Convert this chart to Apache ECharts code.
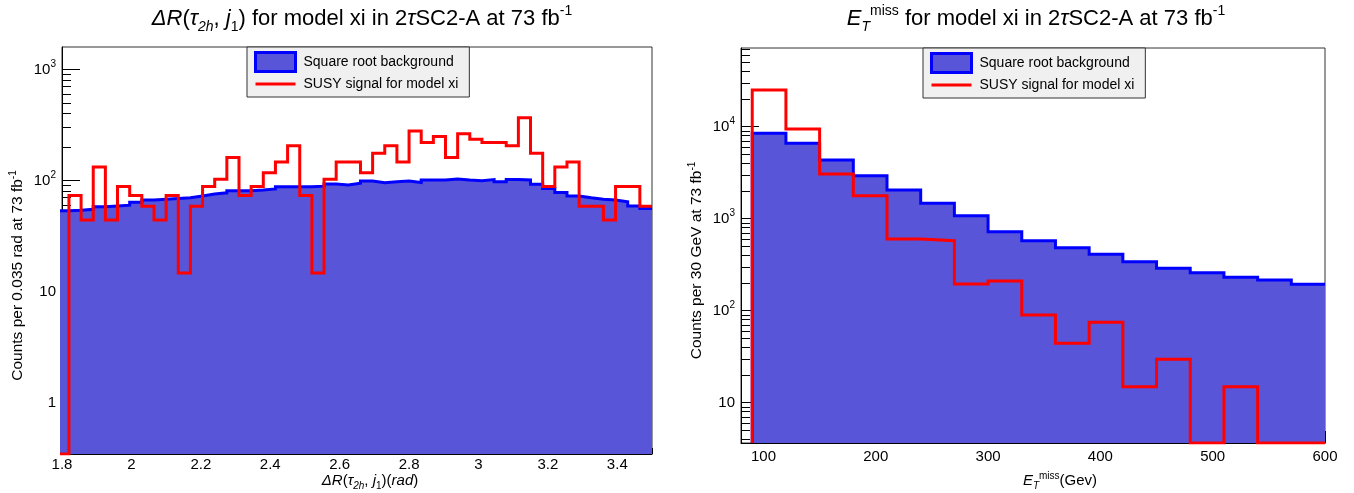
<!DOCTYPE html>
<html><head><meta charset="utf-8">
<script src="https://cdn.jsdelivr.net/npm/echarts@6/dist/echarts.min.js"></script>
<style>html,body{margin:0;padding:0;background:#fff}#c{width:1354px;height:493px}</style>
</head><body><div id="c"></div><script>
// ---------- Left panel: ΔR(τ2h, j1), bins of 0.035 rad starting at 1.785 ----------
const drFirstEdge = 1.785;
const drBinWidth = 0.035;
const drBackground = [53.5, 54, 55, 58, 59, 60, 63.6, 66.7, 67.7, 69, 70, 72.5, 75.5, 77.5, 81, 81, 82, 84, 88, 88, 88, 89, 93, 91, 94.4, 99,
  95.5, 97.5, 99, 96, 101, 101, 103.5, 101, 99.6, 102, 97.5, 102, 101, 92.4, 85, 78, 72.5, 70, 68, 66.7, 64.4, 59, 56];
const drSignal = [0, 73.5, 44.1, 132.3, 44.1, 88.2, 73.5, 58.8, 44.1, 73.5, 14.7, 58.8, 88.2, 102.9, 161.7, 73.5, 88.2, 117.6, 147, 205.8,
  73.5, 14.7, 102.9, 147, 147, 117.6, 176.4, 205.8, 147, 279.3, 220.5, 249.9, 161.7, 264.6, 235.2, 220.5, 220.5, 205.8, 367.5, 176.4,
  88.2, 132.3, 147, 58.8, 58.8, 44.1, 88.2, 88.2, 58.8];
const drXTickLabels = [1.8, 2, 2.2, 2.4, 2.6, 2.8, 3, 3.2, 3.4];
const drYTickLabels = [1, 10, 100, 1000];

// ---------- Right panel: E_T^miss, bins of 30 GeV starting at 90 ----------
const metFirstEdge = 90;
const metBinWidth = 30;
const metBackground = [8480, 6590, 4350, 2930, 2050, 1470, 1078, 723, 577, 484, 410, 341, 289, 259, 231, 216, 194];
const metSignal = [25100, 9440, 3060, 1780, 601, 577, 195, 210, 89.8, 44.3, 74.8, 14.9, 29.6, 0, 14.9, 0, 0];
const metXTickLabels = [100, 200, 300, 400, 500, 600];
const metYTickLabels = [10, 100, 1000, 10000];

const bgName = 'Square root background';
const sigName = 'SUSY signal for model xi';

// axis ranges
const L = {xmin: 1.8, xmax: 3.5, ymin: 0.344, ymax: 1596};
const R = {xmin: 80, xmax: 600, ymin: 3.65, ymax: 71600};

const FONT = 'Liberation Sans';
const BLUE = '#0000ff', RED = '#ff0000', FILL = '#5955d8';

function stepPoints(first, width, values, floor, closeLeft) {
  const pts = [];
  if (closeLeft) pts.push([first, floor]);
  values.forEach((v, i) => {
    const lo = +(first + i * width).toFixed(4), hi = +(first + (i + 1) * width).toFixed(4);
    const y = Math.max(v, floor);
    pts.push([lo, y], [hi, y]);
  });
  return pts;
}
function logMinor(min, max) {
  const out = [];
  for (let d = -2; d <= 6; d++) for (let m = 2; m <= 9; m++) {
    const v = m * Math.pow(10, d);
    if (v > min && v < max) out.push(v);
  }
  return out;
}
function linMinor(min, max, step, majorStep) {
  const out = [];
  const n = Math.round((max - min) / step);
  for (let i = 0; i <= n; i++) {
    const v = +(min + i * step).toFixed(4);
    if (Math.abs(v / majorStep - Math.round(v / majorStep)) > 1e-6) out.push(v);
  }
  return out;
}

const tickFont = {fontFamily: FONT, fontSize: 15, color: '#000'};
const richScript = {
  sup: {fontFamily: FONT, fontSize: 10, verticalAlign: 'top', lineHeight: 10, color: '#000'}
};
function logLabel(v) {
  const e = Math.round(Math.log10(v));
  if (e <= 1) return String(Math.round(v));
  return '10{sup|' + e + '}';
}

const titleRich = {
  i: {fontFamily: FONT, fontSize: 22, fontStyle: 'italic', color: '#000', lineHeight: 30},
  sub: {fontFamily: FONT, fontSize: 14, verticalAlign: 'bottom', lineHeight: 13, color: '#000'},
  isub: {fontFamily: FONT, fontSize: 14, fontStyle: 'italic', verticalAlign: 'bottom', lineHeight: 13, color: '#000'},
  sup: {fontFamily: FONT, fontSize: 14, verticalAlign: 'top', lineHeight: 13, color: '#000'}
};
const nameRich = {
  i: {fontFamily: FONT, fontSize: 15, fontStyle: 'italic', color: '#000', lineHeight: 20},
  sub: {fontFamily: FONT, fontSize: 10, verticalAlign: 'bottom', lineHeight: 9, color: '#000'},
  isub: {fontFamily: FONT, fontSize: 10, fontStyle: 'italic', verticalAlign: 'bottom', lineHeight: 9, color: '#000'},
  sup: {fontFamily: FONT, fontSize: 10, verticalAlign: 'top', lineHeight: 9, color: '#000'}
};

function xAxes(grid, rng, labels, minorVals, name, nameGap, namePad, labelMargin) {
  return [{
    gridIndex: grid, type: 'value', min: rng.xmin, max: rng.xmax,
    axisLine: {show: true, onZero: false, lineStyle: {color: '#000', width: 1}},
    axisTick: {show: true, inside: true, length: 12, customValues: labels, lineStyle: {color: '#000'}},
    axisLabel: {customValues: labels, margin: labelMargin, ...tickFont, formatter: v => String(+(+v).toFixed(2))},
    splitLine: {show: false},
    name: name, nameLocation: 'middle', nameGap: nameGap, nameMoveOverlap: false,
    nameTextStyle: {fontFamily: FONT, fontSize: 15, color: '#000', lineHeight: 20, padding: namePad, rich: nameRich}
  }, {
    gridIndex: grid, type: 'value', min: rng.xmin, max: rng.xmax, position: 'bottom',
    axisLine: {show: false}, axisLabel: {show: false}, splitLine: {show: false},
    axisTick: {show: true, inside: true, length: 6, customValues: minorVals, lineStyle: {color: '#000'}}
  }];
}
function yAxes(grid, rng, labels, name, nameGap, namePad) {
  return [{
    gridIndex: grid, type: 'log', logBase: 10, min: rng.ymin, max: rng.ymax,
    axisLine: {show: true, lineStyle: {color: '#000', width: 1}},
    axisTick: {show: true, inside: true, length: 18, customValues: labels, lineStyle: {color: '#000'}},
    axisLabel: {customValues: labels, margin: 6, ...tickFont, lineHeight: 20, formatter: logLabel, rich: richScript},
    splitLine: {show: false},
    name: name, nameLocation: 'middle', nameGap: nameGap, nameRotate: 90, nameMoveOverlap: false,
    nameTextStyle: {fontFamily: FONT, fontSize: 15.5, color: '#000', lineHeight: 20, padding: namePad, rich: nameRich}
  }, {
    gridIndex: grid, type: 'log', logBase: 10, min: rng.ymin, max: rng.ymax, position: 'left',
    axisLine: {show: false}, axisLabel: {show: false}, splitLine: {show: false},
    axisTick: {show: true, inside: true, length: 9, customValues: logMinor(rng.ymin, rng.ymax), lineStyle: {color: '#000'}}
  }];
}

function histSeries(name, xi, yi, pts, color, fill, z) {
  const s = {
    name: name, type: 'line', xAxisIndex: xi, yAxisIndex: yi, data: pts,
    symbol: 'none', showSymbol: false, clip: true, z: z, silent: true,
    lineStyle: {color: color, width: 3, join: 'miter', cap: 'butt'},
    itemStyle: {color: color}
  };
  if (fill) s.areaStyle = {color: fill, opacity: 1, origin: 'start'};
  return s;
}

function legendFor(left, top) {
  return {
    left: left, top: top, orient: 'vertical', selectedMode: false,
    backgroundColor: '#f0f0f0', borderColor: '#333', borderWidth: 1, borderRadius: 0,
    padding: [4, 11, 6, 7], itemWidth: 40, itemHeight: 19, itemGap: 4,
    textStyle: {fontFamily: FONT, fontSize: 14, color: '#000', padding: [0, 0, 0, 3]},
    data: [
      {name: bgName, icon: 'rect', itemStyle: {color: FILL, borderColor: BLUE, borderWidth: 3}},
      {name: sigName, icon: 'path://M0,0L38,0L38,3L0,3Z', itemStyle: {color: RED, borderWidth: 0}}
    ]
  };
}

const option = {
  animation: false,
  backgroundColor: '#fff',
  title: [{
    text: '{i|ΔR}({i|τ}{isub|2h}, {i|j}{sub|1}) for model xi in 2{i|τ}SC2-A at 73 fb{sup|-1}',
    left: 362, top: 4, textAlign: 'center', padding: 0,
    textStyle: {fontFamily: FONT, fontSize: 22, fontWeight: 'normal', color: '#000', lineHeight: 30, rich: titleRich}
  }, {
    text: '{i|E}{isub|T}{sup|miss} for model xi in 2{i|τ}SC2-A at 73 fb{sup|-1}',
    left: 1036, top: 4, textAlign: 'center', padding: 0,
    textStyle: {fontFamily: FONT, fontSize: 22, fontWeight: 'normal', color: '#000', lineHeight: 30, rich: titleRich}
  }],
  legend: [legendFor(247, 47), legendFor(923, 48)],
  grid: [
    {left: 62, top: 47, width: 590, height: 407, show: true, borderColor: '#333', borderWidth: 1, backgroundColor: 'transparent', outerBoundsMode: 'none', containLabel: false},
    {left: 741, top: 48, width: 584, height: 395, show: true, borderColor: '#333', borderWidth: 1, backgroundColor: 'transparent', outerBoundsMode: 'none', containLabel: false}
  ],
  xAxis: [
    ...xAxes(0, L, drXTickLabels, linMinor(1.8, 3.5, 0.05, 0.2),
      '{i|ΔR}({i|τ}{isub|2h}, {i|j}{sub|1})({i|rad})', 17, [0, 0, 0, 26], 3),
    ...xAxes(1, R, metXTickLabels, linMinor(80, 600, 20, 100),
      '{i|E}{isub|T}{sup|miss}(Gev)', 28, [0, 0, 0, 54], 6)
  ],
  yAxis: [
    ...yAxes(0, L, drYTickLabels, 'Counts per 0.035 rad at 73 fb{sup|-1}', 34, [0, 50, 0, 0]),
    ...yAxes(1, R, metYTickLabels, 'Counts per 30 GeV at 73 fb{sup|-1}', 34, [0, 30, 0, 0])
  ],
  series: [
    histSeries(bgName, 0, 0, stepPoints(drFirstEdge, drBinWidth, drBackground, L.ymin, false), BLUE, FILL, 2),
    histSeries(sigName, 0, 0, stepPoints(drFirstEdge, drBinWidth, drSignal, L.ymin, false), RED, null, 3),
    histSeries(bgName, 2, 2, stepPoints(metFirstEdge, metBinWidth, metBackground, R.ymin, true), BLUE, FILL, 2),
    histSeries(sigName, 2, 2, stepPoints(metFirstEdge, metBinWidth, metSignal, R.ymin, true), RED, null, 3)
  ]
};
const chart = echarts.init(document.getElementById('c'), null, {renderer: 'canvas', width: 1354, height: 493});
chart.setOption(option);
</script></body></html>
